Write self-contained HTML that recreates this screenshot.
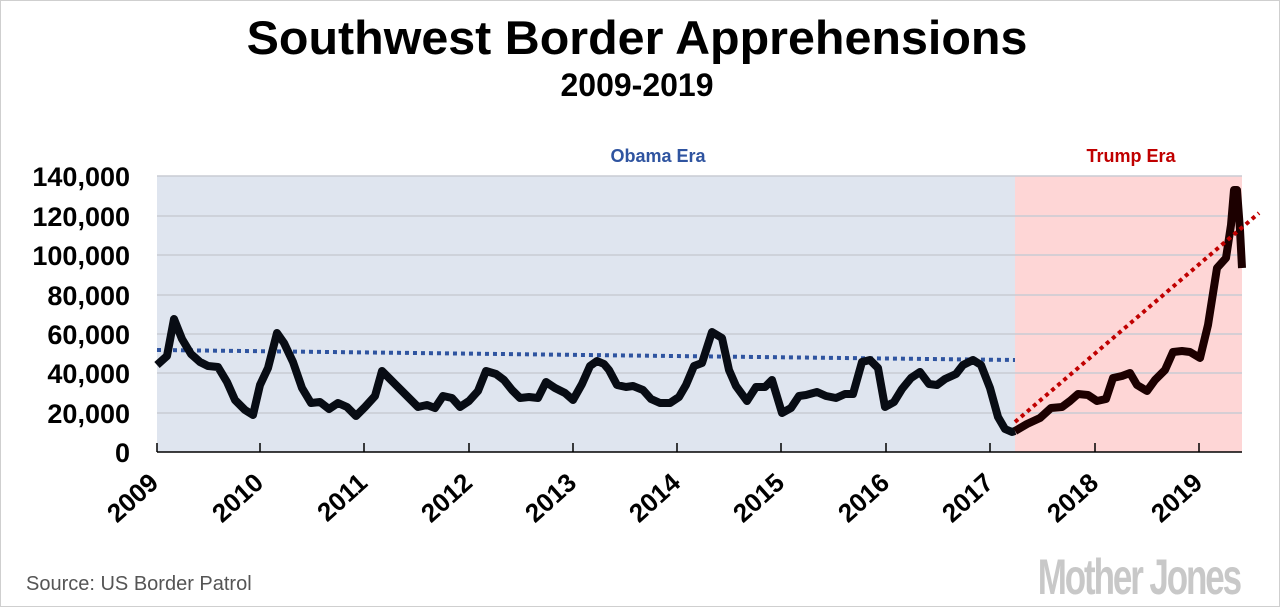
<!DOCTYPE html>
<html><head><meta charset="utf-8"><style>
html,body{margin:0;padding:0;background:#fff;}
svg{display:block;}
</style></head><body>
<svg width="1280" height="607" viewBox="0 0 1280 607" xmlns="http://www.w3.org/2000/svg" font-family="'Liberation Sans', sans-serif">
<rect x="0.5" y="0.5" width="1279" height="606" fill="#fff" stroke="#cfcfcf"/>
<text x="637" y="54" text-anchor="middle" font-size="47" font-weight="bold" fill="#000" transform="translate(637,0) scale(1.03,1) translate(-637,0)">Southwest Border Apprehensions</text>
<text x="637" y="96" text-anchor="middle" font-size="32" font-weight="bold" fill="#000">2009-2019</text>
<rect x="157" y="176" width="858" height="276" fill="#dfe5ef"/>
<rect x="1015" y="176" width="227" height="276" fill="#fed6d6"/>
<g stroke="#c9ccd4" stroke-width="1.5">
<line x1="157" y1="176" x2="1242" y2="176"/><line x1="157" y1="216" x2="1242" y2="216"/>
<line x1="157" y1="255" x2="1242" y2="255"/><line x1="157" y1="295" x2="1242" y2="295"/>
<line x1="157" y1="334" x2="1242" y2="334"/><line x1="157" y1="373" x2="1242" y2="373"/>
<line x1="157" y1="413" x2="1242" y2="413"/>
</g>
<g stroke="#000" stroke-width="1.5">
<line x1="157" y1="452" x2="1242" y2="452"/>
<line x1="157" y1="443" x2="157" y2="452"/><line x1="260" y1="443" x2="260" y2="452"/>
<line x1="364" y1="443" x2="364" y2="452"/><line x1="469" y1="443" x2="469" y2="452"/>
<line x1="573" y1="443" x2="573" y2="452"/><line x1="677" y1="443" x2="677" y2="452"/>
<line x1="781" y1="443" x2="781" y2="452"/><line x1="886" y1="443" x2="886" y2="452"/>
<line x1="990" y1="443" x2="990" y2="452"/><line x1="1095" y1="443" x2="1095" y2="452"/>
<line x1="1199" y1="443" x2="1199" y2="452"/>
</g>
<g font-size="27" font-weight="bold" text-anchor="end" fill="#000">
<text x="130" y="186">140,000</text><text x="130" y="226">120,000</text>
<text x="130" y="265">100,000</text><text x="130" y="305">80,000</text>
<text x="130" y="344">60,000</text><text x="130" y="383">40,000</text>
<text x="130" y="423">20,000</text><text x="130" y="462">0</text>
</g>
<g font-size="26" font-weight="bold" text-anchor="end" fill="#000">
<text transform="translate(160,485) rotate(-42)">2009</text>
<text transform="translate(265,485) rotate(-42)">2010</text>
<text transform="translate(369,485) rotate(-42)">2011</text>
<text transform="translate(474,485) rotate(-42)">2012</text>
<text transform="translate(578,485) rotate(-42)">2013</text>
<text transform="translate(682,485) rotate(-42)">2014</text>
<text transform="translate(786,485) rotate(-42)">2015</text>
<text transform="translate(891,485) rotate(-42)">2016</text>
<text transform="translate(995,485) rotate(-42)">2017</text>
<text transform="translate(1100,485) rotate(-42)">2018</text>
<text transform="translate(1204,485) rotate(-42)">2019</text>
</g>
<text x="658" y="162" text-anchor="middle" font-size="18" font-weight="bold" fill="#2f54a0">Obama Era</text>
<text x="1131" y="162" text-anchor="middle" font-size="18" font-weight="bold" fill="#c00000">Trump Era</text>
<line x1="157" y1="350" x2="1015" y2="360" stroke="#2f54a0" stroke-width="4" stroke-dasharray="4,4"/>
<polyline fill="none" stroke="#080c14" stroke-width="8" stroke-linejoin="round" points="157,365 167,356 174,319 182,339 191,354 200,362 208,366 218,367 227,382 235,400 245,410 253,415 260,385 268,368 277,333 284,343 293,362 302,388 311,403 320,402 329,409 338,403 347,407 356,416 365,407 375,396 382,371 390,379 400,389 409,398 418,407 427,405 435,408 443,396 452,398 460,407 469,401 478,391 486,371 496,374 504,380 512,390 520,398 529,397 538,398 546,382 555,388 565,393 573,400 582,384 590,366 597,361 604,364 609,370 617,385 626,387 633,386 643,390 651,399 660,403 670,403 679,397 686,385 694,366 702,363 712,332 722,338 729,370 736,386 747,401 756,387 765,387 772,380 782,413 791,408 799,396 806,395 817,392 826,396 836,398 845,394 853,394 862,362 870,360 878,368 885,407 894,402 902,389 911,378 920,372 929,384 937,385 945,379 956,374 963,365 973,360 981,365 990,388 998,417 1005,429 1012,432 1015,431"/>
<polyline fill="none" stroke="#1c0000" stroke-width="8" stroke-linejoin="round" points="1015,431 1027,424 1040,418 1051,408 1062,407 1070,401 1078,394 1088,395 1097,401 1106,399 1113,378 1122,376 1130,373 1137,385 1147,391 1155,380 1165,370 1173,352 1182,351 1190,352 1200,358 1208,325 1217,268 1226,258 1231,225 1234,190 1237,190 1240,230 1242,268"/>
<line x1="1015" y1="422" x2="1259" y2="213" stroke="#c00000" stroke-width="4" stroke-dasharray="4,4"/>
<text x="26" y="590" font-size="20" fill="#555">Source: US Border Patrol</text>
<text x="1240" y="594" text-anchor="end" font-size="50" font-weight="bold" fill="#c8c8c8" letter-spacing="-3" transform="translate(1240,0) scale(0.7,1) translate(-1240,0)">Mother Jones</text>
</svg>
</body></html>
